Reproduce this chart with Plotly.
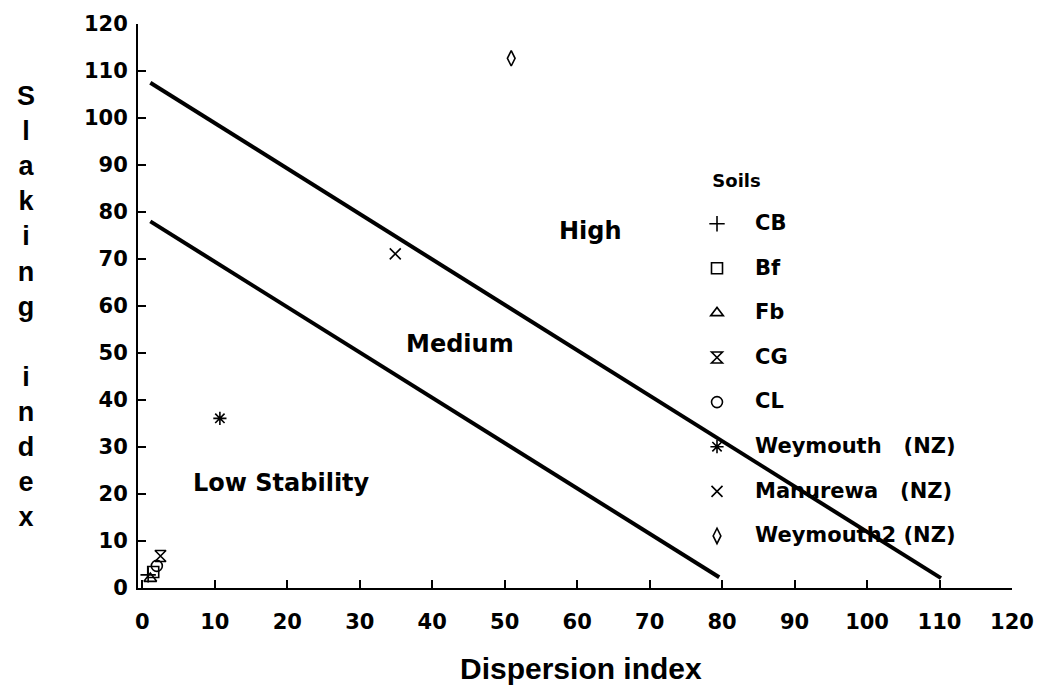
import plotly.graph_objects as go

# ---- data ----
soil_names = ["CB", "Bf", "Fb", "CG", "CL",
              "Weymouth\u00a0\u00a0\u00a0(NZ)", "Manurewa\u00a0\u00a0\u00a0(NZ)", "Weymouth2\u00a0(NZ)"]
soil_x = [0.8, 1.5, 1.1, 2.5, 2.0, 10.7, 34.9, 50.9]
soil_y = [2.8, 3.4, 2.0, 6.8, 4.7, 36.1, 71.1, 112.7]
soil_symbols = ["cross-thin-open", "square-open", "triangle-up-open", "hourglass-open",
                "circle-open", "asterisk-open", "x-thin-open", "diamond-tall-open"]

upper_line_x = [1.1, 110.2]
upper_line_y = [107.5, 2.1]
lower_line_x = [1.1, 79.6]
lower_line_y = [78.0, 2.3]

region_labels = ["High", "Medium", "Low Stability"]
region_x = [61.8, 43.8, 19.2]
region_y = [76.0, 52.0, 22.3]

x_ticks = list(range(0, 121, 10))
y_ticks = list(range(0, 121, 10))

FONT = "Liberation Sans"
WIDE = "DejaVu Sans"

fig = go.Figure()

fig.add_trace(go.Scatter(x=upper_line_x, y=upper_line_y, mode="lines",
                         line=dict(color="black", width=4), showlegend=False, hoverinfo="skip"))
fig.add_trace(go.Scatter(x=lower_line_x, y=lower_line_y, mode="lines",
                         line=dict(color="black", width=4), showlegend=False, hoverinfo="skip"))

for name, x, y, sym in zip(soil_names, soil_x, soil_y, soil_symbols):
    fig.add_trace(go.Scatter(
        x=[x], y=[y], mode="markers",
        name='<span style="font-size:21px">' + name + "</span><br> ",
        marker=dict(symbol=sym, size=11, color="black", line=dict(color="black", width=1.6)),
        cliponaxis=False,
    ))

for t, x, y in zip(region_labels, region_x, region_y):
    fig.add_annotation(x=x, y=y, text=t, showarrow=False,
                       font=dict(family=WIDE, size=24, color="black", weight="bold"))

# stacked y-axis title
ylab = "<br>".join(list("Slaking") + [" "] + list("index"))
fig.add_annotation(xref="paper", yref="paper", x=-0.128, y=0.5, xanchor="center", yanchor="middle",
                   text=ylab, showarrow=False,
                   font=dict(family=FONT, size=27, color="black", weight="bold"))

# x-axis title as annotation (slightly right of centre, as in the original)
fig.add_annotation(xref="paper", yref="paper", x=0.5, y=0, xshift=6, yshift=-80,
                   xanchor="center", yanchor="middle", text="Dispersion index", showarrow=False,
                   font=dict(family=FONT, size=30, color="black", weight="bold"))

fig.update_layout(
    width=1046, height=698,
    margin=dict(l=138, r=28, t=23, b=110),
    plot_bgcolor="white", paper_bgcolor="white",
    font=dict(family=FONT, color="black"),
    legend=dict(
        x=0.619, y=0.745, xanchor="left", yanchor="top",
        bgcolor="rgba(0,0,0,0)", valign="top", itemwidth=66,
        font=dict(family=WIDE, size=16, color="black", weight="bold"),
        title=dict(text='<span style="font-size:18px">\u00a0\u00a0\u00a0\u00a0\u00a0Soils</span><br> ',
                   font=dict(family=WIDE, size=15, color="black", weight="bold")),
        tracegroupgap=0,
    ),
    xaxis=dict(
        range=[-0.6, 120], tickvals=x_ticks, ticktext=[str(v) for v in x_ticks],
        showgrid=False, zeroline=False, showline=True, linecolor="black", linewidth=2,
        ticks="inside", ticklen=8, tickwidth=2, tickcolor="black", ticklabelstandoff=14,
        tickfont=dict(family=WIDE, size=21, color="black", weight="bold"),
    ),
    yaxis=dict(
        range=[0, 120], tickvals=y_ticks, ticktext=[str(v) for v in y_ticks],
        showgrid=False, zeroline=False, showline=True, linecolor="black", linewidth=2,
        ticks="inside", ticklen=8, tickwidth=2, tickcolor="black", ticklabelstandoff=4,
        tickfont=dict(family=WIDE, size=21, color="black", weight="bold"),
    ),
)

fig.write_html("out.html")
